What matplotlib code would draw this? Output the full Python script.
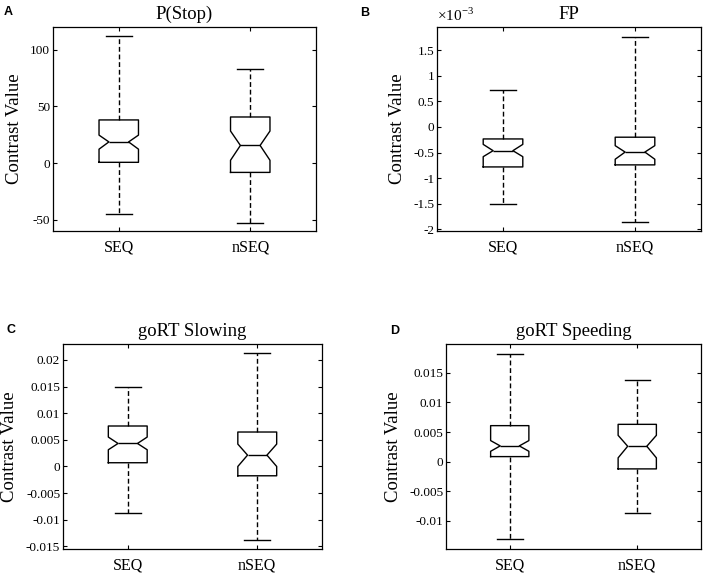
import matplotlib
matplotlib.use("Agg")
from matplotlib import pyplot as plt
from matplotlib.ticker import FuncFormatter

plt.rcParams["font.family"] = "Liberation Serif"
plt.rcParams["axes.unicode_minus"] = False
plt.rcParams["mathtext.fontset"] = "custom"
plt.rcParams["mathtext.rm"] = "Liberation Serif"

groups = ["SEQ", "nSEQ"]

# P(Stop)
stop_whislo = [-45.0, -52.7]
stop_q1 = [0.6, -8.3]
stop_med = [18.6, 15.5]
stop_q3 = [38.0, 40.6]
stop_whishi = [112.0, 83.0]
stop_cilo = [12.2, 2.4]
stop_cihi = [24.6, 28.2]

# FP
fp_whislo = [-1.50e-3, -1.86e-3]
fp_q1 = [-0.78e-3, -0.74e-3]
fp_med = [-0.463e-3, -0.49e-3]
fp_q3 = [-0.234e-3, -0.20e-3]
fp_whishi = [0.72e-3, 1.76e-3]
fp_cilo = [-0.58e-3, -0.63e-3]
fp_cihi = [-0.34e-3, -0.365e-3]

# goRT Slowing
slow_whislo = [-0.00876, -0.01378]
slow_q1 = [0.0007, -0.00175]
slow_med = [0.00432, 0.00213]
slow_q3 = [0.0076, 0.00647]
slow_whishi = [0.0149, 0.02124]
slow_cilo = [0.00314, 0.0]
slow_cihi = [0.00552, 0.0042]

# goRT Speeding
speed_whislo = [-0.01318, -0.00873]
speed_q1 = [0.00084, -0.00124]
speed_med = [0.00265, 0.00259]
speed_q3 = [0.00608, 0.0063]
speed_whishi = [0.01824, 0.0138]
speed_cilo = [0.00174, 0.00063]
speed_cihi = [0.00355, 0.00444]


def make_stats(whislo, q1, med, q3, whishi, cilo, cihi):
    stats = []
    for i in range(len(groups)):
        stats.append(dict(label=groups[i], whislo=whislo[i], q1=q1[i],
                          med=med[i], q3=q3[i], whishi=whishi[i],
                          cilo=cilo[i], cihi=cihi[i], fliers=[]))
    return stats


def draw(ax, stats, title, ylim, yticks, scale=1.0, label_x=-0.15):
    ax.bxp(stats, positions=[1, 2], widths=0.3, capwidths=0.2,
           shownotches=True, showfliers=False,
           boxprops=dict(color="black", linewidth=1.0),
           medianprops=dict(color="black", linewidth=1.0),
           whiskerprops=dict(color="black", linewidth=1.0,
                             linestyle=(0, (3.5, 2))),
           capprops=dict(color="black", linewidth=1.0))
    ax.set_xlim(0.5, 2.5)
    ax.set_ylim(ylim)
    ax.set_yticks(yticks)
    ax.yaxis.set_major_formatter(FuncFormatter(lambda v, p: "%g" % round(v * scale, 6)))
    ax.set_title(title, fontsize=13.5, pad=6)
    ax.set_ylabel("Contrast Value", fontsize=13.5, va="center")
    ax.yaxis.set_label_coords(label_x, 0.5)
    ax.tick_params(direction="in", top=True, right=True, length=3, width=0.8)
    ax.tick_params(axis="y", labelsize=9.5, pad=2)
    ax.tick_params(axis="x", labelsize=11.5, pad=6)
    for s in ax.spines.values():
        s.set_linewidth(0.9)


fig = plt.figure(figsize=(7.08, 5.77), dpi=100)
W, H = 708.0, 577.0

ax_a = fig.add_axes([53 / W, 1 - 231 / H, 263 / W, 204 / H])
ax_b = fig.add_axes([437 / W, 1 - 231 / H, 264 / W, 204 / H])
ax_c = fig.add_axes([63 / W, 1 - 549 / H, 259 / W, 205 / H])
ax_d = fig.add_axes([446 / W, 1 - 549 / H, 255 / W, 205 / H])

draw(ax_a, make_stats(stop_whislo, stop_q1, stop_med, stop_q3, stop_whishi, stop_cilo, stop_cihi),
     "P(Stop)", (-60, 120), [-50, 0, 50, 100], label_x=-0.145)
draw(ax_b, make_stats(fp_whislo, fp_q1, fp_med, fp_q3, fp_whishi, fp_cilo, fp_cihi),
     "FP", (-2.03e-3, 1.95e-3), [-2e-3, -1.5e-3, -1e-3, -0.5e-3, 0, 0.5e-3, 1e-3, 1.5e-3],
     scale=1e3, label_x=-0.15)
ax_b.text(0.0, 1.015, r"$\times 10^{-3}$", transform=ax_b.transAxes,
          fontsize=11, ha="left", va="bottom")
draw(ax_c, make_stats(slow_whislo, slow_q1, slow_med, slow_q3, slow_whishi, slow_cilo, slow_cihi),
     "goRT Slowing", (-0.0155, 0.023),
     [-0.015, -0.01, -0.005, 0, 0.005, 0.01, 0.015, 0.02], label_x=-0.206)
draw(ax_d, make_stats(speed_whislo, speed_q1, speed_med, speed_q3, speed_whishi, speed_cilo, speed_cihi),
     "goRT Speeding", (-0.0148, 0.0199),
     [-0.01, -0.005, 0, 0.005, 0.01, 0.015], label_x=-0.205)

panel_kw = dict(fontsize=9, fontweight="bold", family="Liberation Sans",
                ha="center", va="center")
fig.text(8 / W, 1 - 12 / H, "A", **panel_kw)
fig.text(365 / W, 1 - 13 / H, "B", **panel_kw)
fig.text(11 / W, 1 - 330 / H, "C", **panel_kw)
fig.text(395 / W, 1 - 331 / H, "D", **panel_kw)

fig.savefig("out.png", dpi=100)
